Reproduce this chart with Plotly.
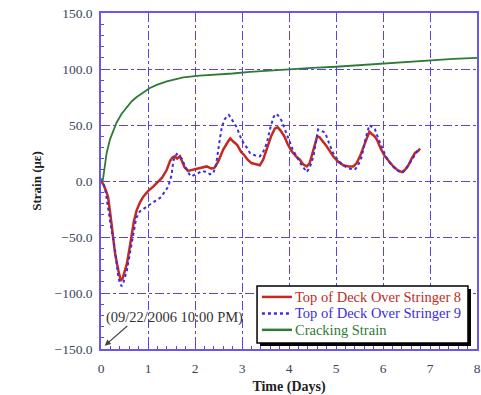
import plotly.graph_objects as go

# Top of deck strain, stringer 8 (days, microstrain)
t8 = [0, 0.05, 0.1, 0.15, 0.2, 0.25, 0.3, 0.37, 0.42, 0.46, 0.5, 0.55, 0.6, 0.65, 0.7, 0.76,
      0.83, 0.9, 1.0, 1.11, 1.2, 1.3, 1.4, 1.47, 1.52, 1.57, 1.62, 1.68, 1.72, 1.78, 1.85, 1.95,
      2.04, 2.15, 2.25, 2.35, 2.42, 2.5, 2.6, 2.7, 2.75, 2.82, 2.9, 2.98, 3.05, 3.12, 3.2, 3.3,
      3.38, 3.45, 3.53, 3.62, 3.7, 3.76, 3.82, 3.9, 3.97, 4.05, 4.15, 4.23, 4.3, 4.38, 4.44, 4.5,
      4.55, 4.6, 4.65, 4.73, 4.8, 4.88, 4.94, 5.05, 5.16, 5.27, 5.37, 5.44, 5.51, 5.6, 5.67, 5.71,
      5.76, 5.82, 5.87, 5.95, 6.04, 6.13, 6.22, 6.3, 6.4, 6.47, 6.54, 6.61, 6.68, 6.75, 6.79]
s8 = [0, -3, -8, -14, -30, -48, -65, -80, -89, -87, -82, -74, -62, -48, -36, -26,
      -19, -14, -9, -5, -1, 3, 10, 18, 21, 22, 20, 22, 18, 12, 9, 10,
      11, 12, 13, 11, 12, 18, 28, 35, 38, 35, 32, 26, 23, 19, 16, 15,
      14, 19, 28, 40, 47, 48, 45, 40, 33, 27, 22, 19, 15, 13, 16, 25,
      33, 40, 39, 35, 31, 26, 22, 17, 14, 13, 13, 16, 22, 32, 41, 44,
      42, 40, 37, 29, 22, 17, 13, 10, 8, 10, 14, 20, 25, 27, 29]

# Top of deck strain, stringer 9
t9 = [0, 0.05, 0.1, 0.15, 0.19, 0.25, 0.3, 0.37, 0.41, 0.44, 0.48, 0.55, 0.6, 0.65, 0.7, 0.75,
      0.83, 0.95, 1.04, 1.15, 1.26, 1.35, 1.43, 1.5, 1.54, 1.58, 1.61, 1.66, 1.72, 1.78, 1.82, 1.88,
      1.93, 2.0, 2.07, 2.15, 2.25, 2.32, 2.39, 2.45, 2.52, 2.57, 2.63, 2.68, 2.72, 2.78, 2.84, 2.89,
      2.96, 3.03, 3.1, 3.17, 3.27, 3.38, 3.45, 3.53, 3.6, 3.67, 3.72, 3.76, 3.84, 3.92, 3.99, 4.08,
      4.16, 4.27, 4.38, 4.45, 4.52, 4.57, 4.62, 4.68, 4.77, 4.85, 4.94, 5.05, 5.19, 5.3, 5.4, 5.47,
      5.55, 5.63, 5.71, 5.77, 5.83, 5.9, 5.97, 6.06, 6.15, 6.28, 6.4, 6.48, 6.57, 6.66, 6.75]
s9 = [2, -2, -10, -22, -35, -50, -62, -86, -92, -94, -90, -80, -68, -56, -42, -33,
      -27, -24, -21, -18, -15, -10, -5, 5, 18, 22, 24, 22, 20, 14, 11, 6,
      4, 6, 7, 9, 8, 6, 7, 15, 35, 48, 55, 58, 59, 55, 52, 48,
      40, 34, 30, 25, 23, 22, 26, 34, 47, 57, 60, 59, 54, 45, 37, 28,
      22, 14, 8, 13, 22, 35, 46, 45, 43, 34, 25, 18, 13, 11, 10, 14,
      22, 38, 50, 48, 46, 38, 31, 22, 16, 10, 7, 10, 16, 22, 28]

# Cracking strain limit
tc = [0, 0.04, 0.09, 0.12, 0.19, 0.26, 0.33, 0.44, 0.55, 0.65, 0.76, 0.9, 1.04, 1.2, 1.4, 1.6,
      1.75, 2.1, 2.5, 2.8, 3.17, 3.5, 4, 4.5, 5, 5.5, 6, 6.5, 7, 7.5, 8]
sc = [0, 1, 16, 25, 37, 45, 52, 60, 66, 71, 75, 79, 83, 86, 89, 91,
      92.5, 94, 95, 96, 97.5, 98.5, 99.7, 101, 102, 103.5, 105, 106.5, 108, 109, 110]

series_names = ["Top of Deck Over Stringer 8", "Top of Deck Over Stringer 9", "Cracking Strain"]
y_ticks = [-150, -100, -50, 0, 50, 100, 150]
x_ticks = [0, 1, 2, 3, 4, 5, 6, 7, 8]

RED = "#c32a22"
BLUE = "#3b2ee0"
GREEN = "#2f7a36"
GRID = "#5a44e0"
SERIF = "Liberation Serif"

styles = [
    dict(color=RED, width=2.5, dash="solid"),
    dict(color=BLUE, width=2, dash="dot"),
    dict(color=GREEN, width=1.8, dash="solid"),
]

fig = go.Figure()
for xs, ys, name, st in zip([t8, t9, tc], [s8, s9, sc], series_names, styles):
    fig.add_trace(go.Scatter(x=xs, y=ys, mode="lines", name=name, line=st,
                             showlegend=False))

# Boxed legend with drop shadow, drawn in paper coordinates
lg_x0, lg_x1, lg_y0, lg_y1 = 0.415, 0.976, 0.018, 0.1875
fig.add_shape(type="rect", xref="paper", yref="paper",
              x0=lg_x0 + 0.008, x1=lg_x1 + 0.008, y0=lg_y0 - 0.009, y1=lg_y1 - 0.009,
              fillcolor="black", line=dict(width=0), layer="above")
fig.add_shape(type="rect", xref="paper", yref="paper",
              x0=lg_x0, x1=lg_x1, y0=lg_y0, y1=lg_y1,
              fillcolor="white", line=dict(color="black", width=1.5), layer="above")
row_y = [0.155, 0.106, 0.057]
for ry, name, st in zip(row_y, series_names, styles):
    fig.add_shape(type="line", xref="paper", yref="paper",
                  x0=0.428, x1=0.508, y0=ry, y1=ry,
                  line=dict(color=st["color"], width=2.5, dash=st["dash"]), layer="above")
    fig.add_annotation(x=0.511, y=ry, xref="paper", yref="paper",
                       xanchor="left", yanchor="middle", text=name, showarrow=False,
                       font=dict(family=SERIF, size=14.5, color=st["color"]))

fig.add_annotation(x=0.06, y=-122, xref="x", yref="y", xanchor="left",
                   text="(09/22/2006 10:00 PM)", showarrow=False,
                   font=dict(family=SERIF, size=14.5, color="#333333"))
fig.add_annotation(x=0.08, y=-147, xref="x", yref="y", text="",
                   showarrow=True, ax=24, ay=-21, arrowhead=2, arrowsize=1,
                   arrowwidth=1.2, arrowcolor="#444444")

axis_common = dict(
    showline=True, linecolor="#6a56e8", linewidth=1.5, mirror=True,
    showgrid=True, gridcolor=GRID, gridwidth=1, griddash="dashdot",
    zeroline=False, ticks="inside", ticklen=4, tickcolor=GRID,
    tickfont=dict(family=SERIF, size=13.5, color="#3a4560"),
    automargin=False,
)

fig.update_xaxes(range=[0, 8], tickvals=x_ticks, **axis_common,
                 ticklabelstandoff=6,
                 minor=dict(dtick=0.2, ticks="inside", ticklen=3, tickcolor=GRID),
                 title=dict(text="<b>Time (Days)</b>", standoff=13,
                            font=dict(family=SERIF, size=14, color="#222222")))
fig.update_yaxes(range=[-150, 150], tickvals=y_ticks, tickformat=".1f", **axis_common,
                 minor=dict(dtick=10, ticks="inside", ticklen=3, tickcolor=GRID),
                 ticklabelstandoff=4,
                 title=dict(text="<b>Strain (με)</b>", standoff=10,
                            font=dict(family=SERIF, size=13, color="#222222")))

fig.update_layout(
    width=481, height=395,
    margin=dict(l=101, r=4, t=13, b=46),
    paper_bgcolor="white", plot_bgcolor="white",
    font=dict(family=SERIF),
    showlegend=False,
)

fig.write_html("out.html")
